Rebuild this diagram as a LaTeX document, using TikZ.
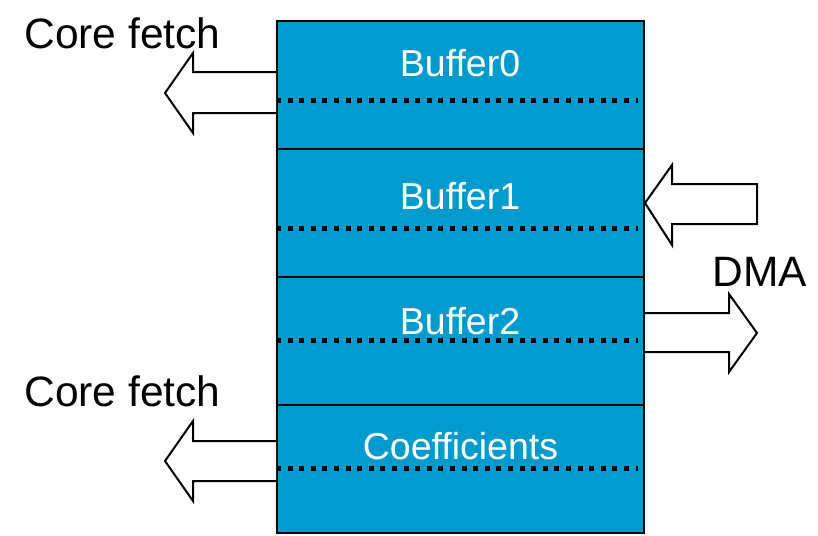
\documentclass[tikz,border=0pt]{standalone}
\usepackage{fontspec}
\setmainfont{Liberation Sans}
\definecolor{bufblue}{RGB}{0,155,205}
\begin{document}
\begin{tikzpicture}[x=1pt,y=-1pt,
  rowbox/.style={draw=black,line width=2pt,fill=bufblue,rectangle,inner sep=0pt,
    minimum width=367pt,minimum height=128pt},
  buflabel/.style={text=white,inner sep=0pt,font=\fontsize{37.5}{42}\selectfont},
  sidelabel/.style={text=black,inner sep=0pt,font=\fontsize{42.5}{46}\selectfont},
  dotline/.style={line width=5pt,dash pattern=on 5pt off 6.6pt},
  blockarrow/.style={draw=black,line width=2pt,fill=white,line join=miter}]
\useasboundingbox (0,0) rectangle (818,535);

% memory rows
\node[rowbox] (r0) at (460.5,85) {};
\node[rowbox] (r1) at (460.5,213) {};
\node[rowbox] (r2) at (460.5,341) {};
\node[rowbox] (r3) at (460.5,469) {};

% row titles
\node[buflabel] (t0) at (460,63) {Buffer0};
\node[buflabel] (t1) at (460,196) {Buffer1};
\node[buflabel] (t2) at (460,321) {Buffer2};
\node[buflabel] (t3) at (460.5,446) {Coefficients};

% dotted separators inside each row
\draw[dotline] (r0.west |- 0,100) -- (638,100);
\draw[dotline] (r1.west |- 0,228) -- (638,228);
\draw[dotline] (r2.west |- 0,340) -- (638,340);
\draw[dotline] (r3.west |- 0,468) -- (638,468);

% block arrows
\coordinate (a0) at (r0.west |- 0,93);
\draw[blockarrow] ([yshift=21pt]a0) -- (193,72) -- (193,53) -- (165,93)
  -- (193,133) -- (193,113) -- ([yshift=-20pt]a0);
\coordinate (a3) at (r3.west |- 0,461);
\draw[blockarrow] ([yshift=20pt]a3) -- (193,441) -- (193,421) -- (165,461)
  -- (193,501) -- (193,481) -- ([yshift=-20pt]a3);
\coordinate (a1) at (r1.east |- 0,203);
\draw[blockarrow] (a1) -- (672,165) -- (672,184) -- (757,184) -- (757,224)
  -- (672,224) -- (672,245) -- cycle;
\coordinate (a2) at (r2.east |- 0,333);
\draw[blockarrow] ([yshift=20pt]a2) -- (729,313) -- (729,294) -- (757,333)
  -- (729,372) -- (729,352) -- ([yshift=-19pt]a2);

% side labels
\node[sidelabel] (cf0) at (122.5,33) {Core fetch};
\node[sidelabel] (cf1) at (122.5,391) {Core fetch};
\node[sidelabel] (dma) at (760,272) {DMA};
\end{tikzpicture}
\end{document}
